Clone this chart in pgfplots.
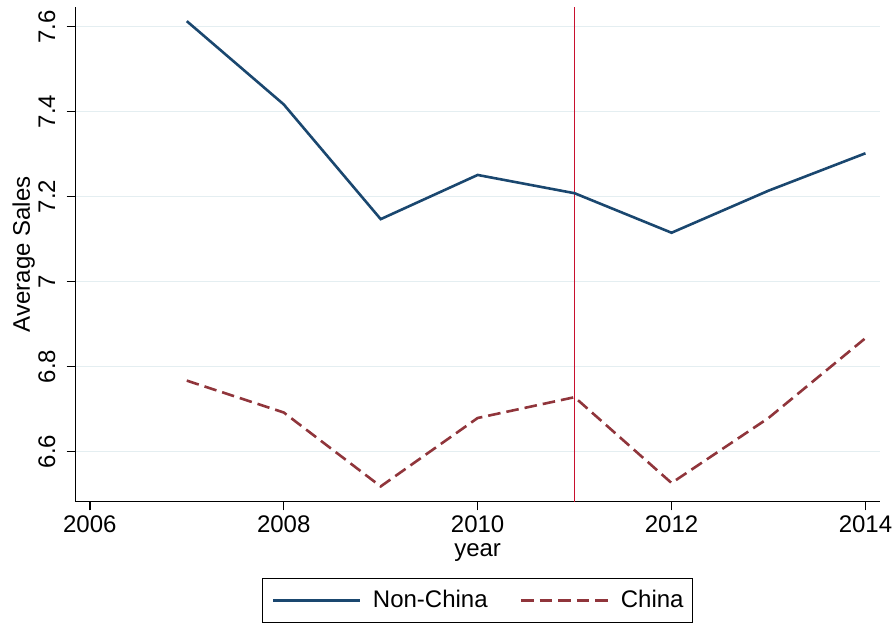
\documentclass[border=0pt]{standalone}
\usepackage{fontspec}
\setmainfont{Liberation Sans}
\usepackage{pgfplots}
\pgfplotsset{compat=1.18}

\definecolor{navyline}{RGB}{26,71,111}
\definecolor{maroonline}{RGB}{144,53,59}
\definecolor{breakline}{RGB}{200,16,46}
\definecolor{gridc}{RGB}{228,238,241}

% average sales by year
\pgfplotstableread{
year  sales
2007  7.613
2008  7.417
2009  7.147
2010  7.251
2011  7.208
2012  7.115
2013  7.214
2014  7.302
}\nonchina
\pgfplotstableread{
year  sales
2007  6.767
2008  6.692
2009  6.518
2010  6.679
2011  6.728
2012  6.526
2013  6.679
2014  6.867
}\china

\begin{document}
\begin{tikzpicture}
\useasboundingbox (-37.65pt,-60.65pt) rectangle (410.35pt,250.85pt);
\begin{axis}[
  at={(0,0)}, anchor=south west,
  scale only axis,
  width=402.35pt, height=247.5pt,
  xmin=2005.85, xmax=2014.15,
  ymin=6.482, ymax=7.647,
  axis lines=left,
  axis line style={-, line width=0.75pt, black},
  tick align=outside,
  major tick length=4.3pt,
  tick style={line width=0.75pt, black},
  xtick={2006,2008,2010,2012,2014},
  ytick={6.6,6.8,7,7.2,7.4,7.6},
  minor tick num=0,
  /pgf/number format/assume math mode=true,
  /pgf/number format/1000 sep={},
  ticklabel style={font=\fontsize{12}{14}\selectfont},
  xticklabel style={anchor=north, inner sep=0pt},
  xticklabel shift=2.35pt,
  yticklabel style={rotate=90, anchor=base, inner sep=0pt},
  yticklabel shift=5.85pt,
  ymajorgrids,
  grid style={gridc, line width=0.7pt},
  xlabel={year},
  ylabel={Average Sales},
  label style={font=\fontsize{12}{14}\selectfont, inner sep=0pt},
  xlabel style={at={([yshift=-27.5pt]axis description cs:0.5,0)}, anchor=base},
  ylabel style={at={([xshift=-22.65pt]axis description cs:0,0.5)}, rotate=0, anchor=base},
  legend columns=2,
  legend style={
    at={(axis description cs:0.5,0)}, anchor=north, yshift=-38pt,
    draw=black, line width=0.5pt,
    font=\fontsize{12}{14}\selectfont,
    inner xsep=4.5pt, inner ysep=6pt,
    nodes={inner sep=0pt},
    /tikz/every odd column/.append style={column sep=6pt},
    /tikz/every even column/.append style={column sep=16pt},
  },
  legend image code/.code={\draw[#1] (0pt,0pt) -- (43.3pt,0pt);},
]
\addplot[breakline, line width=0.85pt, forget plot] coordinates {(2011,6.482) (2011,7.647)};
\addplot[navyline, line width=1.3pt, line join=miter] table[x=year, y=sales] {\nonchina};
\addlegendentry{Non-China}
\addplot[maroonline, line width=1.3pt, dash pattern=on 6.3pt off 3pt] table[x=year, y=sales] {\china};
\addlegendentry{China}
\end{axis}
\end{tikzpicture}
\end{document}
